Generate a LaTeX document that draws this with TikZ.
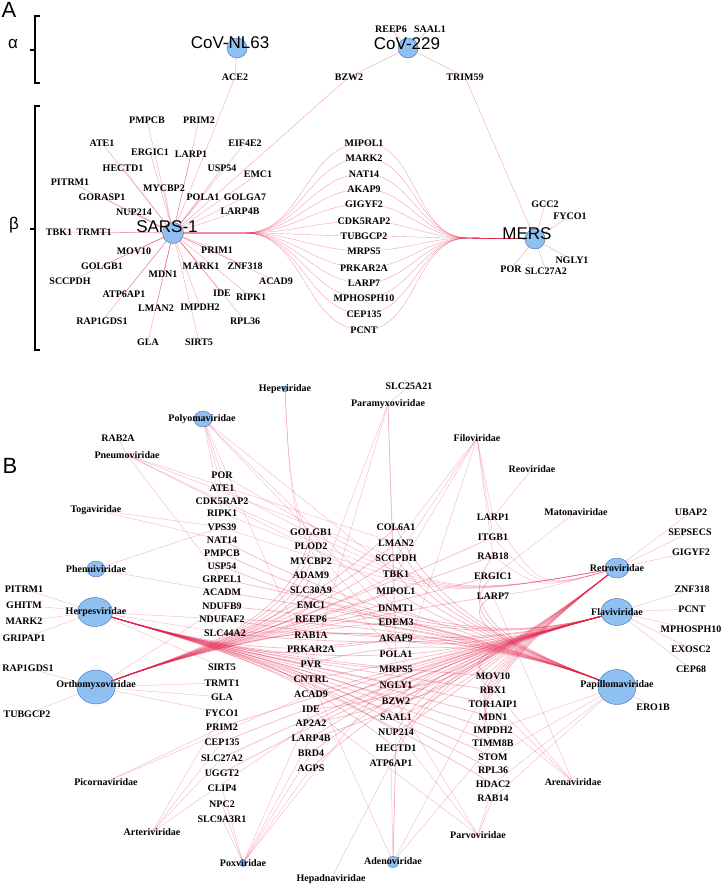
\documentclass[tikz,border=0pt]{standalone}
\usepackage{fontspec}
\setmainfont{Liberation Serif}
\newfontfamily\arialfont{Liberation Sans}
\usetikzlibrary{shapes.geometric,backgrounds}
\definecolor{virusblue}{RGB}{142,192,242}
\definecolor{virusedge}{RGB}{70,110,170}
\definecolor{linkred}{RGB}{225,30,70}
\tikzset{
  gene/.style={font=\bfseries\fontsize{10}{10}\selectfont, inner sep=0.5pt},
  covlabel/.style={font=\arialfont\fontsize{17}{17}\selectfont, inner sep=0pt},
  panellabel/.style={font=\arialfont\fontsize{22}{22}\selectfont, inner sep=0pt},
  greek/.style={font=\arialfont\fontsize{17}{17}\selectfont, inner sep=0pt},
  virusdot/.style={ellipse, draw=virusedge, fill=virusblue, line width=0.4pt, inner sep=0pt},
  linkA/.style={draw=linkred, draw opacity=0.45, line width=0.35pt},
  linkB/.style={draw=linkred, draw opacity=0.28, line width=0.5pt},
  bundle/.style={draw=linkred, draw opacity=0.3, line width=0.75pt},
  bracket/.style={line width=1.3pt}
}
\begin{document}
\begin{tikzpicture}[x=1pt,y=-1pt]
\useasboundingbox (0,0) rectangle (724,884);

% panel A
\node[panellabel] (labA) at (9,10) {A};
\node[greek] (alpha) at (13,44) {α};
\node[greek] (beta) at (14,225) {β};
\draw[bracket] (40,16) -- (35,16) -- (35,83) -- (40,83);
\draw[bracket] (35,50) -- (30,50);
\draw[bracket] (40,106) -- (35,106) -- (35,350) -- (40,350);
\draw[bracket] (35,229) -- (30,229);

\node[virusdot, minimum width=20pt, minimum height=20pt] (a-NL63) at (237,48) {};
\node[covlabel] (a-NL63-text) at (230,43) {CoV-NL63};
\node[virusdot, minimum width=20pt, minimum height=20pt] (a-229) at (408,48) {};
\node[covlabel] (a-229-text) at (407,44) {CoV-229};
\node[virusdot, minimum width=21pt, minimum height=21pt] (a-SARS) at (173,233) {};
\node[covlabel] (a-SARS-text) at (167,227) {SARS-1};
\node[virusdot, minimum width=20pt, minimum height=20pt] (a-MERS) at (535,239) {};
\node[covlabel] (a-MERS-text) at (527,234) {MERS};

\foreach \n/\x/\y in {PMPCB/147/120, PRIM2/199/120, ATE1/102/143, ERGIC1/150/152,
    LARP1/191/154, EIF4E2/245/143, HECTD1/123/168, USP54/222/168, EMC1/258/174,
    PITRM1/70/182, MYCBP2/164/188, GORASP1/102/197, POLA1/203/197, GOLGA7/245/197,
    NUP214/134/212, LARP4B/240/211, TBK1/59/232, TRMT1/94/232, MOV10/134/251,
    PRIM1/217/250, GOLGB1/102/266, MARK1/201/266, ZNF318/245/266, SCCPDH/70/281,
    MDN1/163/274, ACAD9/276/281, ATP6AP1/124/294, IDE/222/293, RIPK1/251/297,
    LMAN2/156/308, IMPDH2/200/307, RAP1GDS1/102/321, RPL36/245/321, GLA/148/342,
    SIRT5/199/342, ACE2/235/77, BZW2/349/77, REEP6/391/29, SAAL1/430/29, TRIM59/465/77,
    MIPOL1/364/143, MARK2/364/158, NAT14/364/174, AKAP9/364/189, GIGYF2/364/204,
    CDK5RAP2/364/221, TUBGCP2/364/236, MRPS5/364/251, PRKAR2A/364/268, LARP7/364/283,
    MPHOSPH10/364/298, CEP135/364/314, PCNT/364/330,
    GCC2/545/204, FYCO1/570/216, NGLY1/572/260, POR/511/269, SLC27A2/546/271}
  \node[gene] (a-\n) at (\x,\y) {\n};

\coordinate (a-split) at (245,233);
\coordinate (a-join) at (468,238);

\begin{pgfonlayer}{background}
\draw[linkA] (a-NL63.center) -- (a-ACE2.center) -- (a-SARS.center);
\draw[linkA] (a-229.center) -- (a-BZW2.center) -- (a-SARS.center);
\draw[linkA] (a-229.center) -- (a-TRIM59.center) -- (a-MERS.center);
\draw[linkA] (a-229.center) -- (a-REEP6.center);
\draw[linkA] (a-229.center) -- (a-SAAL1.center);
\foreach \g in {PMPCB,PRIM2,ATE1,ERGIC1,LARP1,EIF4E2,HECTD1,USP54,EMC1,PITRM1,
    MYCBP2,GORASP1,POLA1,GOLGA7,NUP214,LARP4B,TBK1,TRMT1,MOV10,PRIM1,GOLGB1,
    MARK1,ZNF318,SCCPDH,MDN1,ACAD9,ATP6AP1,IDE,RIPK1,LMAN2,IMPDH2,RAP1GDS1,
    RPL36,GLA,SIRT5}
  \draw[linkA] (a-SARS.center) -- (a-\g.center);
\foreach \g in {MIPOL1,MARK2,NAT14,AKAP9,GIGYF2,CDK5RAP2,TUBGCP2,MRPS5,PRKAR2A,
    LARP7,MPHOSPH10,CEP135,PCNT}
  \draw[linkA] (a-SARS.center) -- (a-split) to[out=0,in=180] (a-\g.center)
    to[out=0,in=180] (a-join) -- (a-MERS.center);
\foreach \g in {GCC2,FYCO1,NGLY1,POR,SLC27A2}
  \draw[linkA] (a-MERS.center) -- (a-\g.center);
\end{pgfonlayer}

% panel B
\node[panellabel] (labB) at (10,466) {B};

\node[virusdot, minimum width=6pt, minimum height=6pt] (b-Hepe) at (285,389) {};
\node[gene] (b-Hepe-text) at (285,389) {Hepeviridae};
\node[virusdot, minimum width=18pt, minimum height=16pt] (b-Polyoma) at (203,419) {};
\node[gene] (b-Polyoma-text) at (202,419) {Polyomaviridae};
\node[virusdot, minimum width=18pt, minimum height=16pt] (b-Phenui) at (96,569) {};
\node[gene] (b-Phenui-text) at (96,569) {Phenuiviridae};
\node[virusdot, minimum width=35pt, minimum height=29pt] (b-Herpes) at (95,612) {};
\node[gene] (b-Herpes-text) at (96,612) {Herpesviridae};
\node[virusdot, minimum width=38pt, minimum height=34pt] (b-Ortho) at (96,687) {};
\node[gene] (b-Ortho-text) at (96,685) {Orthomyxoviridae};
\node[virusdot, minimum width=24pt, minimum height=20pt] (b-Retro) at (617,568) {};
\node[gene] (b-Retro-text) at (617,568) {Retroviridae};
\node[virusdot, minimum width=32pt, minimum height=27pt] (b-Flavi) at (617,612) {};
\node[gene] (b-Flavi-text) at (617,612) {Flaviviridae};
\node[virusdot, minimum width=38pt, minimum height=35pt] (b-Papillo) at (617,687) {};
\node[gene] (b-Papillo-text) at (617,685) {Papillomaviridae};
\node[virusdot, minimum width=7pt, minimum height=7pt] (b-Pox) at (243,863) {};
\node[gene] (b-Pox-text) at (243,863) {Poxviridae};
\node[virusdot, minimum width=12pt, minimum height=11pt] (b-Adeno) at (393,862) {};
\node[gene] (b-Adeno-text) at (393,861) {Adenoviridae};

\node[gene] (b-Pneumo) at (127,455) {Pneumoviridae};
\node[gene] (b-Toga) at (96,510) {Togaviridae};
\node[gene] (b-Paramyxo) at (388,404) {Paramyxoviridae};
\node[gene] (b-Filo) at (477,438) {Filoviridae};
\node[gene] (b-Reo) at (532,469) {Reoviridae};
\node[gene] (b-Matona) at (576,512) {Matonaviridae};
\node[gene] (b-Picorna) at (106,782) {Picornaviridae};
\node[gene] (b-Arteri) at (152,832) {Arteriviridae};
\node[gene] (b-Hepadna) at (331,879) {Hepadnaviridae};
\node[gene] (b-Parvo) at (478,835) {Parvoviridae};
\node[gene] (b-Arena) at (573,782) {Arenaviridae};

\foreach \n/\y in {POR/475, ATE1/488, CDK5RAP2/501, RIPK1/513, VPS39/527, NAT14/540,
    PMPCB/553, USP54/566, GRPEL1/579, ACADM/592, NDUFB9/606, NDUFAF2/619,
    SIRT5/667, TRMT1/683, GLA/697, FYCO1/713, PRIM2/727, CEP135/742, SLC27A2/758,
    UGGT2/773, CLIP4/788, NPC2/804, SLC9A3R1/819}
  \node[gene] (b-\n) at (222,\y) {\n};
\node[gene] (b-SLC44A2) at (225,633) {SLC44A2};
\foreach \n/\y in {GOLGB1/532, PLOD2/546, MYCBP2/561, ADAM9/575, SLC30A9/590,
    EMC1/605, REEP6/619, RAB1A/635, PRKAR2A/649, PVR/664, CNTRL/679, ACAD9/694,
    IDE/709, AP2A2/723, LARP4B/738, BRD4/753, AGPS/768}
  \node[gene] (b-\n) at (311,\y) {\n};
\foreach \n/\y in {COL6A1/527, LMAN2/543, SCCPDH/558, TBK1/574, MIPOL1/591,
    DNMT1/608, EDEM3/622, AKAP9/638, POLA1/654, MRPS5/669, NGLY1/685, BZW2/701,
    SAAL1/717, NUP214/732, HECTD1/748}
  \node[gene] (b-\n) at (396,\y) {\n};
\node[gene] (b-ATP6AP1) at (391,763) {ATP6AP1};
\foreach \n/\y in {LARP1/517, ITGB1/537, RAB18/556, ERGIC1/576, LARP7/596,
    MOV10/676, RBX1/690, TOR1AIP1/704, MDN1/717, IMPDH2/730, TIMM8B/743,
    STOM/757, RPL36/770, HDAC2/784, RAB14/798}
  \node[gene] (b-\n) at (493,\y) {\n};
\foreach \n/\x/\y in {UBAP2/691/512, SEPSECS/690/532, GIGYF2/691/552, ZNF318/692/589,
    PCNT/692/609, MPHOSPH10/691/629, EXOSC2/691/649, CEP68/691/669, ERO1B/653/707,
    PITRM1/24/589, GHITM/24/605, MARK2/24/621, GRIPAP1/24/638, RAP1GDS1/28/668,
    TUBGCP2/27/714, RAB2A/118/438, SLC25A21/409/386}
  \node[gene] (b-\n) at (\x,\y) {\n};

\begin{pgfonlayer}{background}
% bundles of the large families
\foreach \g in {PRKAR2A,PVR,CNTRL,ACAD9,AKAP9,POLA1,MRPS5,NGLY1,BZW2,SAAL1,NUP214,
    HECTD1,MOV10,RBX1,TOR1AIP1,MDN1,IMPDH2,TIMM8B,STOM,RPL36,HDAC2}
  \draw[bundle] (b-Herpes.center) .. controls (185,640) and (290,662) .. (b-\g.center);
\foreach \g in {PITRM1,GHITM,MARK2,GRIPAP1,NDUFAF2,SLC44A2,SIRT5}
  \draw[linkB] (b-Herpes.center) -- (b-\g.center);
\foreach \g in {GOLGB1,PLOD2,MYCBP2,ADAM9,SLC30A9,EMC1,REEP6,RAB1A,COL6A1,LMAN2,
    SCCPDH,TBK1,MIPOL1,DNMT1,EDEM3,ITGB1,RAB18,ERGIC1,LARP7}
  \draw[bundle] (b-Ortho.center) .. controls (185,652) and (290,630) .. (b-\g.center);
\foreach \g in {RAP1GDS1,TUBGCP2,GLA,FYCO1,TRMT1,NDUFB9}
  \draw[linkB] (b-Ortho.center) -- (b-\g.center);
\foreach \g in {MRPS5,NGLY1,POLA1,AKAP9,BZW2,SAAL1,NUP214,HECTD1,ATP6AP1,CNTRL,ACAD9,
    IDE,AP2A2,LARP4B,BRD4,AGPS,CEP135,SLC27A2,UGGT2,PRIM2,MOV10,RBX1,SLC44A2,
    NDUFAF2,USP54,PMPCB,NAT14}
  \draw[bundle] (b-\g.center) .. controls (440,655) and (545,632) .. (b-Flavi.center);
\foreach \g in {ZNF318,PCNT,MPHOSPH10,EXOSC2,CEP68}
  \draw[linkB] (b-Flavi.center) -- (b-\g.center);
\foreach \g in {NGLY1,BZW2,SAAL1,NUP214,IDE,AP2A2,LARP4B,MOV10,RBX1,TOR1AIP1,MDN1,
    IMPDH2,TIMM8B}
  \draw[bundle] (b-\g.center) .. controls (450,700) and (575,600) .. (b-Retro.center);
\foreach \g in {POR,ATE1,CDK5RAP2,RIPK1,VPS39}
  \draw[linkB] (b-\g.center) .. controls (440,600) .. (b-Retro.center);
\foreach \g in {LARP1,ITGB1,RAB18,LARP7}
  \draw[linkB] (b-\g.center) .. controls (540,590) .. (b-Retro.center);
\foreach \g in {SEPSECS,GIGYF2,UBAP2}
  \draw[linkB] (b-Retro.center) -- (b-\g.center);
\foreach \g in {EDEM3,DNMT1,MIPOL1,TBK1,LMAN2,SCCPDH,COL6A1,PRKAR2A,PVR,RAB1A,REEP6,
    EMC1,SLC44A2,NDUFAF2,NDUFB9,ACADM,GRPEL1,ERGIC1,LARP7,RAB18}
  \draw[bundle] (b-\g.center) .. controls (440,625) and (555,662) .. (b-Papillo.center);
\foreach \g in {IMPDH2,STOM,HDAC2,RAB14,ERO1B}
  \draw[linkB] (b-Papillo.center) -- (b-\g.center);
% smaller families
\draw[linkB] (b-Hepe.center) .. controls (292,530) .. (b-AKAP9.center);
\draw[linkB] (b-Hepe.center) .. controls (292,540) .. (b-POLA1.center);
\foreach \v/\g in {Polyoma/POR, Polyoma/ATE1, Polyoma/RIPK1, Polyoma/EDEM3,
    Polyoma/DNMT1, Polyoma/PVR, Polyoma/TBK1,
    Pneumo/RAB2A, Pneumo/CDK5RAP2, Pneumo/GRPEL1, Pneumo/SCCPDH, Pneumo/MIPOL1,
    Pneumo/LMAN2,
    Paramyxo/SLC25A21, Paramyxo/EMC1, Paramyxo/PVR, Paramyxo/AKAP9, Paramyxo/MRPS5,
    Filo/LARP1, Filo/TBK1, Filo/LMAN2, Filo/NGLY1, Filo/ITGB1, Filo/RAB18, Filo/SCCPDH,
    Reo/LARP1, Matona/ERGIC1, Toga/NAT14, Toga/VPS39, Phenui/VPS39, Phenui/ACADM,
    Picorna/PRIM2, Picorna/ACAD9,
    Arteri/CEP135, Arteri/SLC27A2, Arteri/AP2A2, Arteri/FYCO1,
    Pox/SLC9A3R1, Pox/NPC2, Pox/CLIP4, Pox/LARP4B, Pox/BRD4, Pox/AGPS, Pox/MRPS5, Pox/IDE,
    Hepadna/ATP6AP1,
    Adeno/HECTD1, Adeno/ATP6AP1, Adeno/TIMM8B, Adeno/MOV10, Adeno/CNTRL, Adeno/NUP214,
    Parvo/RAB14, Parvo/HDAC2, Parvo/NUP214, Parvo/IDE, Parvo/BZW2,
    Arena/RBX1, Arena/TOR1AIP1, Arena/MDN1, Arena/LARP7}
  \draw[linkB] (b-\v.center) -- (b-\g.center);
\end{pgfonlayer}
\end{tikzpicture}
\end{document}
